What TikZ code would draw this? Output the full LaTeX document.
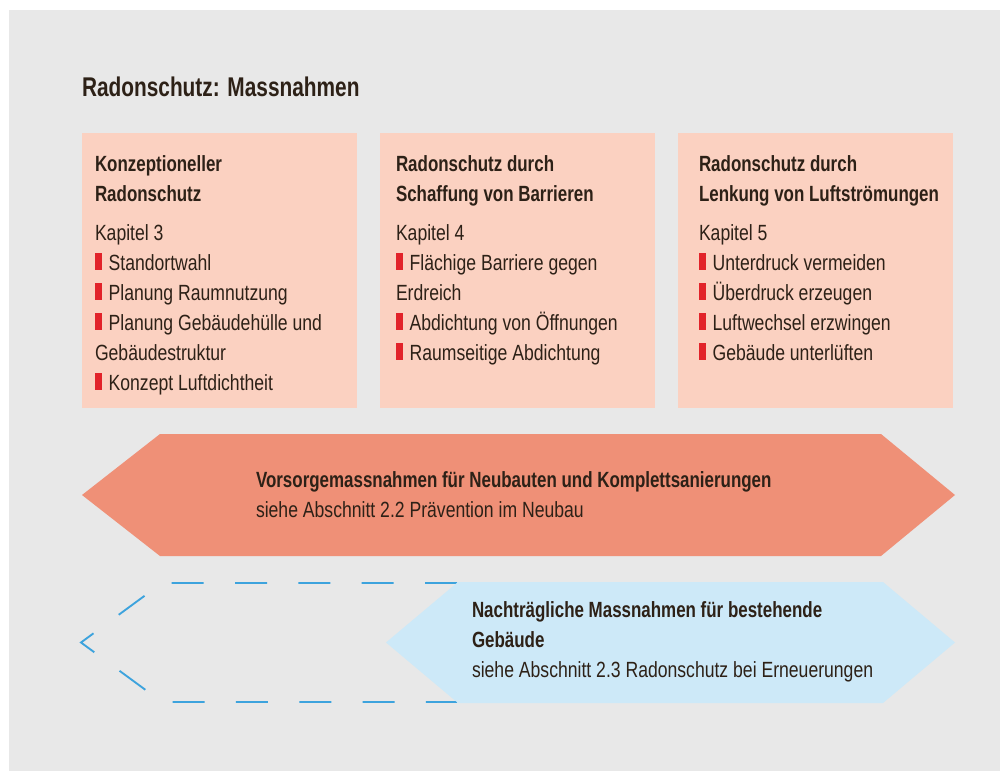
\documentclass[tikz,border=0pt]{standalone}
\usepackage{fontspec}
\setmainfont{Liberation Sans}[FakeStretch=0.80,BoldFeatures={FakeStretch=0.77}]
\definecolor{bggray}{HTML}{E8E8E8}
\definecolor{peach}{HTML}{FBD1C1}
\definecolor{salmon}{HTML}{EF9077}
\definecolor{lightblue}{HTML}{CDE9F8}
\definecolor{dashblue}{HTML}{3DA3DD}
\definecolor{bulletred}{HTML}{E2232A}
\definecolor{textc}{HTML}{2D2117}
\newcommand{\rbul}{{\color{bulletred}\rule{5.25pt}{12.5pt}}\hspace{5pt}}
\begin{document}
\begin{tikzpicture}[x=0.75pt,y=-0.75pt,
  every node/.style={inner sep=0pt,outer sep=0pt,text=textc},
  txt/.style={anchor=base west,align=left,font=\fontsize{16.5}{22.5}\selectfont},
  panel/.style={anchor=north west,fill=peach,minimum width=206.25pt,minimum height=206.25pt},
  hexo/.style={fill=salmon},
  hexb/.style={fill=lightblue},
  dashline/.style={draw=dashblue,line width=1.4pt,dash pattern=on 24pt off 23.5pt}]
\useasboundingbox (0,0) rectangle (1000,771);
\fill[bggray] (9,10) rectangle (1000,771);
\node[txt,font=\bfseries\fontsize{20.3}{25}\selectfont] (title) at (82,96) {Radonschutz: Massnahmen};
% panels
\node[panel] (p1) at (82,133) {};
\node[panel] (p2) at (380,133) {};
\node[panel] (p3) at (678,133) {};
% multi-line nodes: base anchor = baseline of the last line
\node[txt] (t1) at (95,390) {\textbf{Konzeptioneller}\\\textbf{Radonschutz}\\[6.75pt]
Kapitel 3\\
\rbul Standortwahl\\
\rbul Planung Raumnutzung\\
\rbul Planung Gebäudehülle und\\
Gebäudestruktur\\
\rbul Konzept Luftdichtheit};
\node[txt] (t2) at (396,360) {\textbf{Radonschutz durch}\\\textbf{Schaffung von Barrieren}\\[6.75pt]
Kapitel 4\\
\rbul Flächige Barriere gegen\\
Erdreich\\
\rbul Abdichtung von Öffnungen\\
\rbul Raumseitige Abdichtung};
\node[txt] (t3) at (699,360) {\textbf{Radonschutz durch}\\\textbf{Lenkung von Luftströmungen}\\[6.75pt]
Kapitel 5\\
\rbul Unterdruck vermeiden\\
\rbul Überdruck erzeugen\\
\rbul Luftwechsel erzwingen\\
\rbul Gebäude unterlüften};
% orange arrow
\fill[hexo] (82,495) -- (160,434) -- (881,434) -- (955,495) -- (881,556) -- (160,556) -- cycle;
\node[txt] (neu) at (256,517) {\textbf{Vorsorgemassnahmen für Neubauten und Komplettsanierungen}\\
siehe Abschnitt 2.2 Prävention im Neubau};
% dashed outline
\coordinate (d1) at (457,583);
\coordinate (d2) at (162,583);
\coordinate (d3) at (81,642.5);
\coordinate (d4) at (162,702);
\coordinate (d5) at (457,702);
\draw[dashline] (d1) -- (d2) -- (d3) -- (d4) -- (d5);
% blue arrow
\fill[hexb] (386,642.5) -- (458,582) -- (883,582) -- (955,642.5) -- (883,703) -- (458,703) -- cycle;
\node[txt] (alt) at (472,677) {\textbf{Nachträgliche Massnahmen für bestehende}\\
\textbf{Gebäude}\\
siehe Abschnitt 2.3 Radonschutz bei Erneuerungen};
\end{tikzpicture}
\end{document}
